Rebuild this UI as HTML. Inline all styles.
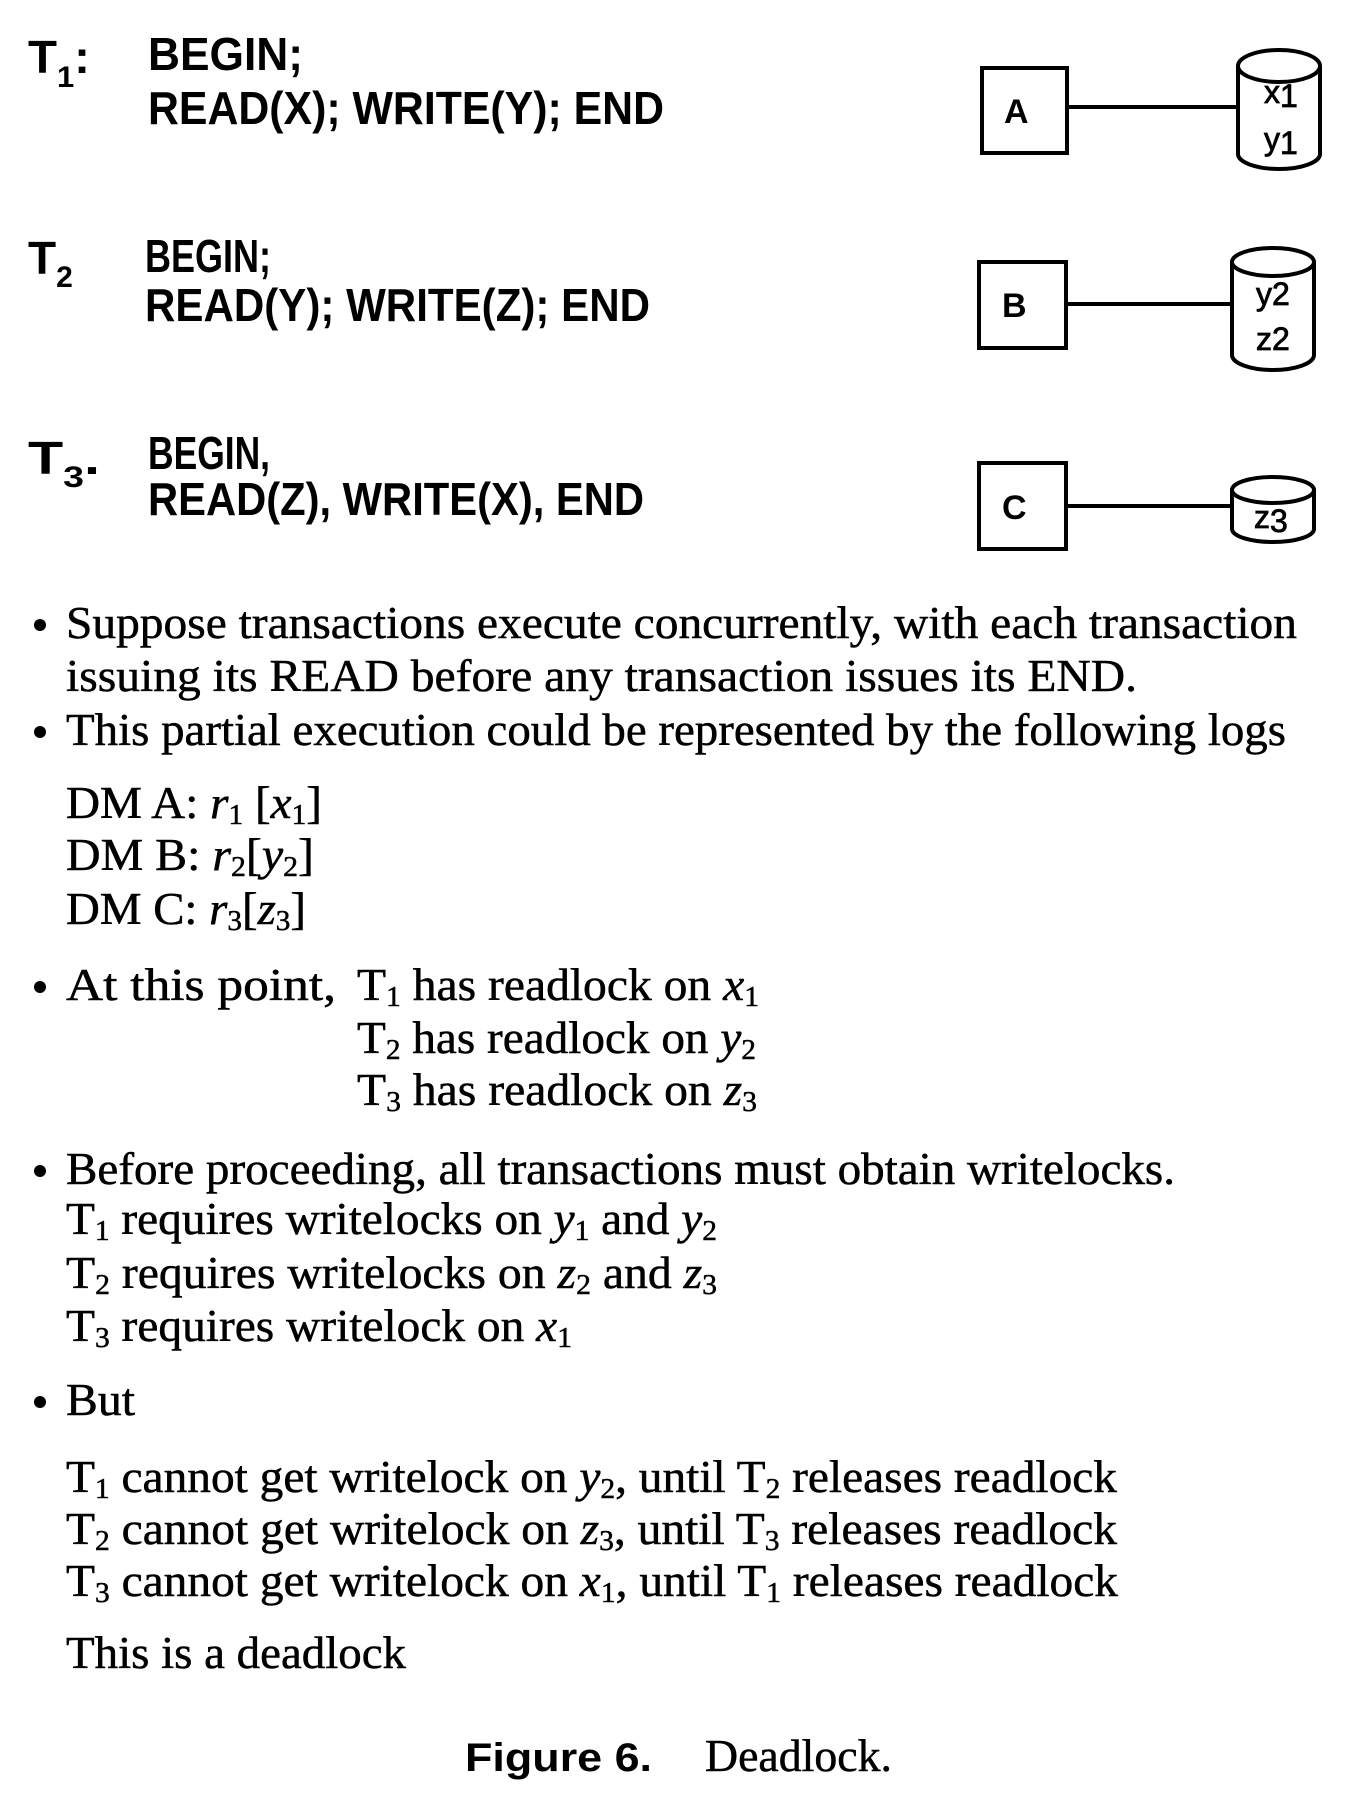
<!DOCTYPE html>
<html><head><meta charset="utf-8"><style>
html,body{margin:0;padding:0;background:#fff;}
svg{display:block;}
.h{font-family:"Liberation Sans",sans-serif;font-weight:bold;font-size:46px;fill:#000;}
.s{font-family:"Liberation Serif",serif;font-size:45px;fill:#000;stroke:#000;stroke-width:0.5;}
.c{font-family:"Liberation Sans",sans-serif;font-weight:bold;font-size:34px;fill:#000;}
.d{font-family:"Liberation Sans",sans-serif;font-size:32px;fill:#000;stroke:#000;stroke-width:0.8;}
</style></head><body>
<svg width="1358" height="1808" viewBox="0 0 1358 1808" xmlns="http://www.w3.org/2000/svg">
<g class="h">
<text x="28" y="73" textLength="62" lengthAdjust="spacingAndGlyphs">T<tspan font-size="30" dy="14">1</tspan><tspan dy="-14">:</tspan></text>
<text x="148" y="70" textLength="155" lengthAdjust="spacingAndGlyphs">BEGIN;</text>
<text x="148" y="124" textLength="516" lengthAdjust="spacingAndGlyphs">READ(X); WRITE(Y); END</text>
<text x="28" y="274">T<tspan font-size="30" dy="13">2</tspan></text>
<text x="145" y="272" textLength="126" lengthAdjust="spacingAndGlyphs">BEGIN;</text>
<text x="145" y="321" textLength="505" lengthAdjust="spacingAndGlyphs">READ(Y); WRITE(Z);  END</text>
<text x="28" y="474" textLength="72" lengthAdjust="spacingAndGlyphs">T<tspan font-size="30" dy="13">3</tspan><tspan dy="-13">.</tspan></text>
<text x="148" y="469" textLength="122" lengthAdjust="spacingAndGlyphs">BEGIN,</text>
<text x="148" y="515" textLength="496" lengthAdjust="spacingAndGlyphs">READ(Z), WRITE(X),  END</text>
</g>
<g fill="none" stroke="#000" stroke-width="4">
<rect x="982" y="68" width="85" height="85"/>
<line x1="1067" y1="107" x2="1238" y2="107"/>
<path d="M1238 66 L1238 154 A41 15 0 0 0 1320 154 L1320 66"/>
<ellipse cx="1279" cy="66" rx="41" ry="16"/>
<rect x="979" y="262" width="87" height="86"/>
<line x1="1066" y1="304" x2="1232" y2="304"/>
<path d="M1232 262 L1232 355 A41 15 0 0 0 1314 355 L1314 262"/>
<ellipse cx="1273" cy="262" rx="41" ry="14"/>
<rect x="979" y="463" width="87" height="86"/>
<line x1="1066" y1="506" x2="1232" y2="506"/>
<path d="M1232 490 L1232 529 A41 13 0 0 0 1314 529 L1314 490"/>
<ellipse cx="1273" cy="490" rx="41" ry="13"/>
</g>
<g class="c">
<text x="1004" y="123">A</text>
<text x="1002" y="317">B</text>
<text x="1002" y="519">C</text>
</g>
<g class="d">
<text x="1264" y="103">x<tspan dy="4">1</tspan></text>
<text x="1264" y="150">y<tspan dy="4">1</tspan></text>
<text x="1256" y="305">y2</text>
<text x="1256" y="350">z2</text>
<text x="1254" y="528">z<tspan dy="4">3</tspan></text>
</g>
<g fill="#000">
<circle cx="40" cy="625" r="6"/><circle cx="40" cy="732" r="6"/>
<circle cx="40" cy="987" r="6"/><circle cx="40" cy="1171" r="6"/>
<circle cx="40" cy="1402" r="6"/>
</g>
<g class="s">
<text x="66" y="638" textLength="1231" lengthAdjust="spacingAndGlyphs">Suppose transactions execute concurrently, with each transaction</text>
<text x="66" y="691" textLength="1071" lengthAdjust="spacingAndGlyphs">issuing its READ before any transaction issues its END.</text>
<text x="66" y="745" textLength="1220" lengthAdjust="spacingAndGlyphs">This partial execution could be represented by the following logs</text>
<text x="66" y="818" textLength="256" lengthAdjust="spacingAndGlyphs">DM A: <tspan font-style="italic">r</tspan><tspan font-size="28" dy="6">1</tspan><tspan dy="-6"> [</tspan><tspan font-style="italic">x</tspan><tspan font-size="28" dy="6">1</tspan><tspan dy="-6">]</tspan></text>
<text x="66" y="870" textLength="248" lengthAdjust="spacingAndGlyphs">DM B: <tspan font-style="italic">r</tspan><tspan font-size="28" dy="6">2</tspan><tspan dy="-6">[</tspan><tspan font-style="italic">y</tspan><tspan font-size="28" dy="6">2</tspan><tspan dy="-6">]</tspan></text>
<text x="66" y="924" textLength="240" lengthAdjust="spacingAndGlyphs">DM C: <tspan font-style="italic">r</tspan><tspan font-size="28" dy="6">3</tspan><tspan dy="-6">[</tspan><tspan font-style="italic">z</tspan><tspan font-size="28" dy="6">3</tspan><tspan dy="-6">]</tspan></text>
<text x="66" y="1000" textLength="270" lengthAdjust="spacingAndGlyphs">At  this  point,</text>
<text x="357" y="1000" textLength="402" lengthAdjust="spacingAndGlyphs">T<tspan font-size="28" dy="6">1</tspan><tspan dy="-6"> has readlock on </tspan><tspan font-style="italic">x</tspan><tspan font-size="28" dy="6">1</tspan></text>
<text x="357" y="1053" textLength="399" lengthAdjust="spacingAndGlyphs">T<tspan font-size="28" dy="6">2</tspan><tspan dy="-6"> has readlock on </tspan><tspan font-style="italic">y</tspan><tspan font-size="28" dy="6">2</tspan></text>
<text x="357" y="1105" textLength="400" lengthAdjust="spacingAndGlyphs">T<tspan font-size="28" dy="6">3</tspan><tspan dy="-6"> has readlock on </tspan><tspan font-style="italic">z</tspan><tspan font-size="28" dy="6">3</tspan></text>
<text x="66" y="1184" textLength="1109" lengthAdjust="spacingAndGlyphs">Before proceeding, all transactions must obtain writelocks.</text>
<text x="66" y="1234" textLength="651" lengthAdjust="spacingAndGlyphs">T<tspan font-size="28" dy="6">1</tspan><tspan dy="-6"> requires writelocks on </tspan><tspan font-style="italic">y</tspan><tspan font-size="28" dy="6">1</tspan><tspan dy="-6"> and </tspan><tspan font-style="italic">y</tspan><tspan font-size="28" dy="6">2</tspan></text>
<text x="66" y="1288" textLength="651" lengthAdjust="spacingAndGlyphs">T<tspan font-size="28" dy="6">2</tspan><tspan dy="-6"> requires writelocks on </tspan><tspan font-style="italic">z</tspan><tspan font-size="28" dy="6">2</tspan><tspan dy="-6"> and </tspan><tspan font-style="italic">z</tspan><tspan font-size="28" dy="6">3</tspan></text>
<text x="66" y="1341" textLength="506" lengthAdjust="spacingAndGlyphs">T<tspan font-size="28" dy="6">3</tspan><tspan dy="-6"> requires writelock on </tspan><tspan font-style="italic">x</tspan><tspan font-size="28" dy="6">1</tspan></text>
<text x="66" y="1415" textLength="69" lengthAdjust="spacingAndGlyphs">But</text>
<text x="66" y="1492" textLength="1051" lengthAdjust="spacingAndGlyphs">T<tspan font-size="28" dy="6">1</tspan><tspan dy="-6"> cannot get writelock on </tspan><tspan font-style="italic">y</tspan><tspan font-size="28" dy="6">2</tspan><tspan dy="-6">, until T</tspan><tspan font-size="28" dy="6">2</tspan><tspan dy="-6"> releases readlock</tspan></text>
<text x="66" y="1544" textLength="1051" lengthAdjust="spacingAndGlyphs">T<tspan font-size="28" dy="6">2</tspan><tspan dy="-6"> cannot get writelock on </tspan><tspan font-style="italic">z</tspan><tspan font-size="28" dy="6">3</tspan><tspan dy="-6">, until T</tspan><tspan font-size="28" dy="6">3</tspan><tspan dy="-6"> releases readlock</tspan></text>
<text x="66" y="1596" textLength="1052" lengthAdjust="spacingAndGlyphs">T<tspan font-size="28" dy="6">3</tspan><tspan dy="-6"> cannot get writelock on </tspan><tspan font-style="italic">x</tspan><tspan font-size="28" dy="6">1</tspan><tspan dy="-6">, until T</tspan><tspan font-size="28" dy="6">1</tspan><tspan dy="-6"> releases readlock</tspan></text>
<text x="66" y="1668" textLength="340" lengthAdjust="spacingAndGlyphs">This is a deadlock</text>
<text x="705" y="1771" textLength="187" lengthAdjust="spacingAndGlyphs">Deadlock.</text>
</g>
<text x="465" y="1771" font-family="Liberation Sans, sans-serif" font-weight="bold" font-size="40" textLength="187" lengthAdjust="spacingAndGlyphs">Figure  6.</text>
</svg>
</body></html>
